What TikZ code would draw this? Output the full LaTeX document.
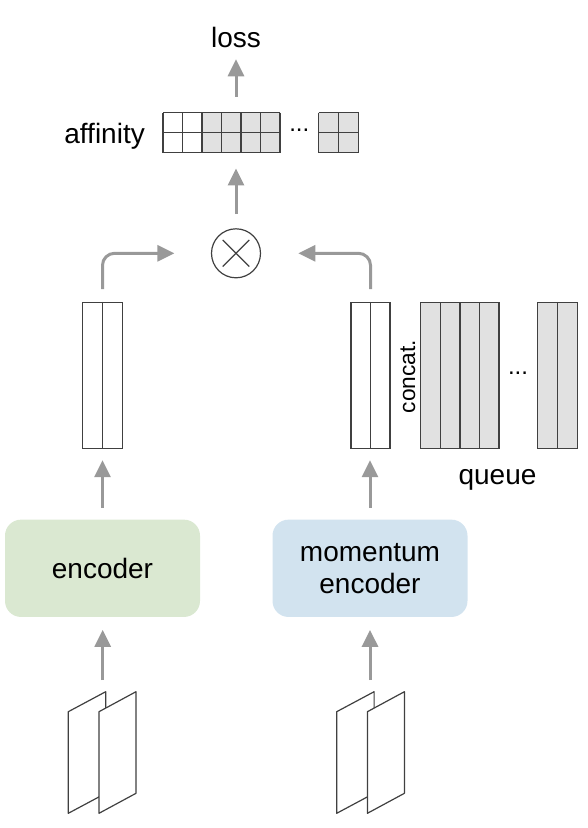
\documentclass[tikz,border=0pt]{standalone}
\usepackage{fontspec}
\setmainfont{Liberation Sans}
\usetikzlibrary{arrows.meta}
\definecolor{arrgray}{HTML}{999999}
\definecolor{linegray}{HTML}{404040}
\definecolor{cellgray}{HTML}{E1E1E1}
\definecolor{encgreen}{HTML}{DAE8D1}
\definecolor{encblue}{HTML}{D2E3EF}
\begin{document}
\begin{tikzpicture}[x=1pt,y=-1pt,
  arr/.style={draw=arrgray, line width=3pt, -{Triangle[length=17pt,width=16pt]}},
  lbl/.style={font=\fontsize{28}{30}\selectfont, inner sep=0pt},
  cellline/.style={draw=linegray, line width=1.3pt},
  encbox/.style={rounded corners=16pt, minimum width=195pt, minimum height=97.3pt, inner sep=0pt, align=center, font=\fontsize{28}{31.6}\selectfont},
  vecbox/.style={draw=linegray, line width=1.3pt, inner sep=0pt},
  sheet/.style={draw=linegray, line width=1.2pt, fill=white, line join=round},
  dotlbl/.style={font=\fontsize{24}{24}\selectfont, inner sep=0pt, anchor=base}]
\useasboundingbox (0,0) rectangle (587,828);

% loss and affinity
\node[lbl, anchor=base] (loss) at (236,47.3) {loss};
\node[lbl, anchor=base east] (afflbl) at (145,143) {affinity};
\fill[white] (163,112.5) rectangle (202,152.5);
\fill[cellgray] (202,112.5) rectangle (280,152.5);
\foreach \x in {163,182.5,202,221.5,241,260.5,280} \draw[cellline] (\x,112.5) -- (\x,152.5);
\foreach \y in {112.5,132.5,152.5} \draw[cellline] (163,\y) -- (280,\y);
\node[inner sep=0pt, minimum width=117pt, minimum height=40pt] (aff) at (221.5,132.5) {};
\node[dotlbl] (adots) at (299.3,131.5) {...};
\fill[cellgray] (318.5,112.5) rectangle (358.5,152.5);
\foreach \x in {318.5,338.5,358.5} \draw[cellline] (\x,112.5) -- (\x,152.5);
\foreach \y in {112.5,132.5,152.5} \draw[cellline] (318.5,\y) -- (358.5,\y);
\node[inner sep=0pt, minimum width=40pt, minimum height=40pt] (aff2) at (338.5,132.5) {};

% product
\node[circle, draw=linegray, line width=1.2pt, minimum size=49pt, inner sep=0pt] (circ) at (236,253.3) {};
\draw[linegray, line width=1.2pt] (circ.center) ++(-13.3,-13.3) -- ++(26.6,26.6);
\draw[linegray, line width=1.2pt] (circ.center) ++(13.3,-13.3) -- ++(-26.6,26.6);

% vectors
\node[vecbox, fill=white, minimum width=40pt, minimum height=146pt] (vL) at (102.5,375.5) {};
\draw[cellline] (vL.north) -- (vL.south);
\node[vecbox, fill=white, minimum width=39pt, minimum height=146pt] (vR) at (370.5,375.5) {};
\draw[cellline] (vR.north) -- (vR.south);

% queue
\node[vecbox, fill=cellgray, minimum width=78.5pt, minimum height=146pt] (q1) at (459.75,375.5) {};
\foreach \x in {440.5,460,479.5} \draw[cellline] (\x,302.5) -- (\x,448.5);
\node[vecbox, fill=cellgray, minimum width=40pt, minimum height=146pt] (q2) at (557.5,375.5) {};
\draw[cellline] (q2.north) -- (q2.south);
\node[dotlbl] (qdots) at (518,374.5) {...};
\node[font=\fontsize{22.7}{24}\selectfont, inner sep=0pt, rotate=90, anchor=base west] (concat) at (415,413.3) {concat.};
\node[lbl, anchor=base] (queue) at (497.5,484) {queue};

% encoders
\node[encbox, fill=encgreen] (enc) at (102.5,568.3) {encoder};
\node[encbox, fill=encblue] (mom) at (370,568.3) {momentum\\encoder};

% input images
\foreach \ox in {68.3,336.7} {
  \draw[sheet] (\ox,711.7) -- (\ox+37.4,691.7) -- (\ox+37.4,793.3) -- (\ox,813.3) -- cycle;
  \draw[sheet] (\ox+30.7,711.7) -- (\ox+67.7,691.7) -- (\ox+67.7,793.3) -- (\ox+30.7,813.3) -- cycle;
}
\coordinate (imgL) at (102.7,691.7);
\coordinate (imgR) at (370,691.7);

% arrows
\draw[arr, shorten <=15.6pt, shorten >=12pt] (loss.base |- aff.north) -- (loss.base);
\draw[arr, shorten <=14pt, shorten >=15.7pt] (circ.north) -- (circ.north |- aff.south);
\draw[arr, rounded corners=12pt, shorten <=12.7pt, shorten >=36.5pt] (vL.north) |- (circ.west);
\draw[arr, rounded corners=12pt, shorten <=12.7pt, shorten >=37.2pt] (vR.north) |- (circ.east);
\draw[arr, shorten <=11.7pt, shorten >=11pt] (enc.north) -- (enc.north |- vL.south);
\draw[arr, shorten <=11.7pt, shorten >=11pt] (mom.north) -- (mom.north |- vR.south);
\draw[arr, shorten <=11.7pt, shorten >=12.7pt] (imgL) -- (imgL |- enc.south);
\draw[arr, shorten <=11.7pt, shorten >=12.7pt] (imgR) -- (imgR |- mom.south);
\end{tikzpicture}
\end{document}
